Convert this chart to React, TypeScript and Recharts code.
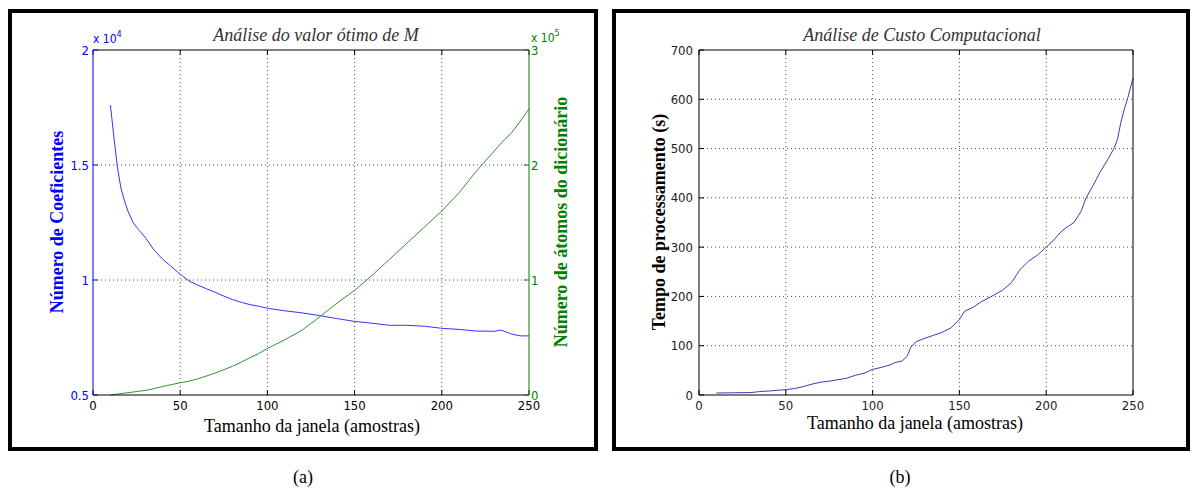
import React from "react";
import { LineChart, Line, XAxis, YAxis, ReferenceLine } from "recharts";

// (a) window size vs. number of coefficients (x10^4) and dictionary atoms (x10^5)
const windowA = [
  10, 12, 14, 16, 18, 20, 23, 26, 30, 35, 40, 45, 50, 55, 60, 65, 70, 75, 80,
  85, 90, 95, 100, 110, 120, 130, 140, 150, 160, 170, 180, 190, 200, 210, 220,
  230, 234, 240, 245, 250,
];
const coefficients = [
  1.76, 1.62, 1.49, 1.4, 1.345, 1.3, 1.25, 1.22, 1.185, 1.13, 1.09, 1.058,
  1.025, 0.996, 0.978, 0.962, 0.947, 0.93, 0.915, 0.903, 0.893, 0.886, 0.877,
  0.866, 0.857, 0.845, 0.832, 0.82, 0.812, 0.803, 0.803, 0.799, 0.79, 0.785,
  0.778, 0.777, 0.782, 0.765, 0.757, 0.757,
];
const atoms = [
  0, 0.004, 0.008, 0.012, 0.016, 0.02, 0.026, 0.032, 0.04, 0.055, 0.075, 0.09,
  0.107, 0.12, 0.14, 0.165, 0.19, 0.22, 0.25, 0.285, 0.325, 0.36, 0.405, 0.48,
  0.565, 0.68, 0.8, 0.91, 1.04, 1.18, 1.32, 1.46, 1.6, 1.76, 1.95, 2.12, 2.19,
  2.28, 2.38, 2.49,
];

// (b) window size vs. processing time (s)
const windowB = [
  10, 20, 30, 35, 40, 50, 55, 60, 65, 70, 75, 80, 85, 90, 95, 100, 105, 110,
  113, 117, 120, 122, 125, 130, 135, 140, 145, 150, 153, 158, 162, 170, 175,
  180, 185, 190, 195, 200, 204, 209, 213, 216, 220, 223, 227, 231, 235, 239,
  241, 243, 245, 247, 250,
];
const procTime = [
  4, 4.5, 5, 7, 8, 11, 13, 17, 22, 26, 28, 31, 34, 40, 44, 52, 56, 61, 66, 69,
  79, 97, 108, 115, 121, 127, 136, 153, 170, 178, 188, 203, 213, 228, 255, 272,
  284, 300, 313, 333, 343, 350, 372, 400, 425, 452, 475, 500, 518, 553, 580,
  603, 643,
];

const xTicks = [0, 50, 100, 150, 200, 250];
const xGrid = [50, 100, 150, 200];
const coefTicks = [0.5, 1, 1.5, 2];
const coefGrid = [1, 1.5];
const atomTicks = [0, 1, 2, 3];
const timeTicks = [0, 100, 200, 300, 400, 500, 600, 700];
const timeGrid = [100, 200, 300, 400, 500, 600];

const dataA = windowA.map((n, i) => ({ n, coef: coefficients[i], atoms: atoms[i] }));
const dataB = windowB.map((n, i) => ({ n, time: procTime[i] }));

const tickFont = "'Liberation Sans Narrow', 'Arial Narrow', 'DejaVu Sans Condensed', sans-serif";
const serif = "'Liberation Serif', 'Times New Roman', serif";
const BLUE = "#0000ff";
const GREEN = "#008000";

const tick = (fill: string) => ({ fill, fontSize: 13, fontFamily: tickFont });
const blank = () => "";

function ChartA() {
  return (
    <LineChart width={590} height={442} data={dataA} margin={{ top: 40, right: 0, bottom: 26, left: 0 }}>
      <XAxis xAxisId="x" dataKey="n" type="number" domain={[0, 250]} ticks={xTicks} interval={0}
        height={30} tickSize={-5} tickMargin={11} axisLine={{ stroke: "#000" }}
        tickLine={{ stroke: "#000" }} tick={tick("#000")} />
      <XAxis xAxisId="top" dataKey="n" orientation="top" type="number" domain={[0, 250]} ticks={xTicks}
        interval={0} height={1} tickSize={-5} tickFormatter={blank} axisLine={{ stroke: "#000" }}
        tickLine={{ stroke: "#000" }} />
      <YAxis yAxisId="coef" type="number" domain={[0.5, 2]} ticks={coefTicks} interval={0} width={85}
        tickSize={-5} tickMargin={9} axisLine={{ stroke: BLUE }} tickLine={{ stroke: BLUE }}
        tick={tick(BLUE)} />
      <YAxis yAxisId="atoms" orientation="right" type="number" domain={[0, 3]} ticks={atomTicks}
        interval={0} width={69} tickSize={-5} tickMargin={7} axisLine={{ stroke: GREEN }}
        tickLine={{ stroke: GREEN }} tick={tick(GREEN)} />
      {xGrid.map((v) => (
        <ReferenceLine key={"gx" + v} xAxisId="x" yAxisId="coef" x={v} stroke="#444" strokeDasharray="1 3" />
      ))}
      {coefGrid.map((v) => (
        <ReferenceLine key={"gy" + v} xAxisId="x" yAxisId="coef" y={v} stroke="#3b3bff" strokeDasharray="1 3" />
      ))}
      <Line xAxisId="x" yAxisId="coef" type="linear" dataKey="coef" stroke="#3434ff" strokeWidth={1}
        dot={false} isAnimationActive={false} />
      <Line xAxisId="x" yAxisId="atoms" type="linear" dataKey="atoms" stroke="#2f962f" strokeWidth={1}
        dot={false} isAnimationActive={false} />
    </LineChart>
  );
}

function ChartB() {
  return (
    <LineChart width={578} height={442} data={dataB} margin={{ top: 40, right: 0, bottom: 26, left: 0 }}>
      <XAxis xAxisId="x" dataKey="n" type="number" domain={[0, 250]} ticks={xTicks} interval={0}
        height={30} tickSize={-5} tickMargin={11} axisLine={{ stroke: "#000" }}
        tickLine={{ stroke: "#000" }} tick={tick("#222")} />
      <XAxis xAxisId="top" dataKey="n" orientation="top" type="number" domain={[0, 250]} ticks={xTicks}
        interval={0} height={1} tickSize={-5} tickFormatter={blank} axisLine={{ stroke: "#000" }}
        tickLine={{ stroke: "#000" }} />
      <YAxis yAxisId="t" type="number" domain={[0, 700]} ticks={timeTicks} interval={0} width={87}
        tickSize={-5} tickMargin={11} axisLine={{ stroke: "#000" }} tickLine={{ stroke: "#000" }}
        tick={tick("#222")} />
      <YAxis yAxisId="box" orientation="right" type="number" domain={[0, 700]} ticks={timeTicks}
        interval={0} width={57} tickSize={-5} tickFormatter={blank} axisLine={{ stroke: "#000" }}
        tickLine={{ stroke: "#000" }} />
      {xGrid.map((v) => (
        <ReferenceLine key={"gx" + v} xAxisId="x" yAxisId="t" x={v} stroke="#555" strokeDasharray="1 3" />
      ))}
      {timeGrid.map((v) => (
        <ReferenceLine key={"gy" + v} xAxisId="x" yAxisId="t" y={v} stroke="#555" strokeDasharray="1 3" />
      ))}
      <Line xAxisId="x" yAxisId="t" type="linear" dataKey="time" stroke="#3c3cb0" strokeWidth={1}
        dot={false} isAnimationActive={false} />
    </LineChart>
  );
}

const frame = (left: number, width: number): React.CSSProperties => ({
  position: "absolute",
  left,
  top: 9,
  width,
  height: 442,
  border: "4px solid #000",
  boxSizing: "border-box",
  pointerEvents: "none",
});

export default function App() {
  return (
    <div style={{ position: "absolute", left: 0, top: 0, width: 1192, height: 495, background: "#fff" }}>
      <div style={{ position: "absolute", left: 8, top: 9 }}>
        <ChartA />
      </div>
      <div style={{ position: "absolute", left: 612, top: 9 }}>
        <ChartB />
      </div>
      <div style={frame(8, 590)} />
      <div style={frame(612, 578)} />
      <svg width={1192} height={495} style={{ position: "absolute", left: 0, top: 0, pointerEvents: "none" }}>
        <g fontFamily={serif}>
          <text x={316} y={41} fontSize={18} fontStyle="italic" fill="#333" textAnchor="middle">
            Análise do valor ótimo de M
          </text>
          <text x={312} y={432} fontSize={18} fill="#000" textAnchor="middle">
            Tamanho da janela (amostras)
          </text>
          <text x={63} y={222} fontSize={18} fontWeight="bold" fill={BLUE} textAnchor="middle"
            transform="rotate(-90 63 222)">
            Número de Coeficientes
          </text>
          <text x={567} y={222} fontSize={18} fontWeight="bold" fill={GREEN} textAnchor="middle"
            transform="rotate(-90 567 222)">
            Número de átomos do dicionário
          </text>
          <text x={922} y={41} fontSize={18} fontStyle="italic" fill="#333" textAnchor="middle">
            Análise de Custo Computacional
          </text>
          <text x={915} y={429} fontSize={18} fill="#000" textAnchor="middle">
            Tamanho da janela (amostras)
          </text>
          <text x={665} y={222} fontSize={18} fontWeight="bold" fill="#000" textAnchor="middle"
            transform="rotate(-90 665 222)">
            Tempo de processamento (s)
          </text>
          <text x={303} y={483} fontSize={18} fill="#000" textAnchor="middle">(a)</text>
          <text x={900} y={483} fontSize={18} fill="#000" textAnchor="middle">(b)</text>
        </g>
        <g fontFamily={tickFont} fontSize={12}>
          <text x={93} y={43} fill={BLUE}>
            x 10<tspan fontSize={9} dy={-6}>4</tspan>
          </text>
          <text x={531} y={42} fill={GREEN}>
            x 10<tspan fontSize={9} dy={-6}>5</tspan>
          </text>
        </g>
      </svg>
    </div>
  );
}
